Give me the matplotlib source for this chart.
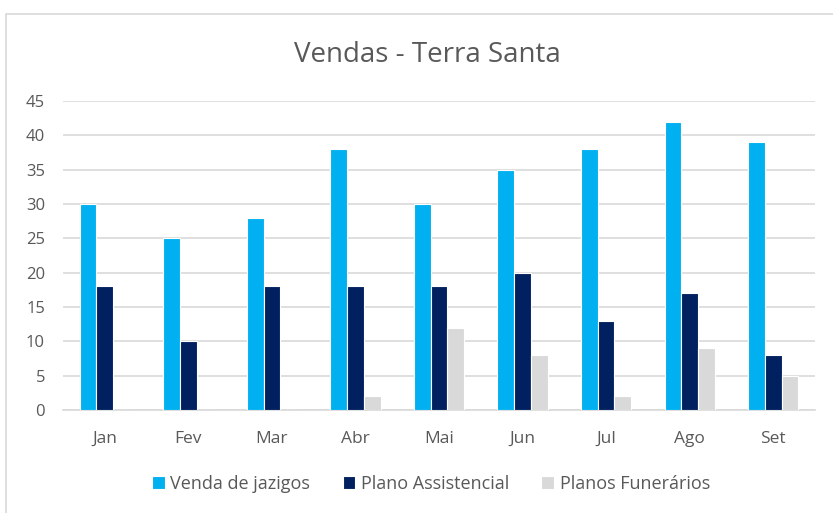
import matplotlib
matplotlib.use("Agg")
import matplotlib.pyplot as plt
import numpy as np
from matplotlib.patches import Rectangle

months = ["Jan", "Fev", "Mar", "Abr", "Mai", "Jun", "Jul", "Ago", "Set"]
venda_jazigos = [30, 25, 28, 38, 30, 35, 38, 42, 39]
plano_assistencial = [18, 10, 18, 18, 18, 20, 13, 17, 8]
planos_funerarios = [0, 0, 0, 2, 12, 8, 2, 9, 5]

series = [
    ("Venda de jazigos", venda_jazigos, "#00B0F0"),
    ("Plano Assistencial", plano_assistencial, "#002060"),
    ("Planos Funerários", planos_funerarios, "#D9D9D9"),
]

plt.rcParams['font.family'] = ['Open Sans', 'DejaVu Sans']
txt = "#595959"

fig = plt.figure(figsize=(8.33, 5.13), dpi=100)
ax = fig.add_axes([63/833, 1 - 410/513, 752/833, 309/513])

x = np.arange(len(months))
w = 0.2
for i, (name, vals, col) in enumerate(series):
    ax.bar(x + (i - 1) * w, vals, width=w, color=col, edgecolor="white",
           linewidth=0.8, label=name, zorder=3)

ax.set_xlim(-0.5, len(months) - 0.5)
ax.set_ylim(0, 45)
ax.set_yticks(range(0, 46, 5))
ax.set_xticks(x)
ax.set_xticklabels(months)
ax.grid(axis="y", color="#D9D9D9", linewidth=1.2, zorder=0)
for s in ["top", "right", "left"]:
    ax.spines[s].set_visible(False)
ax.spines["bottom"].set_color("#D9D9D9")
ax.spines["bottom"].set_linewidth(1.2)
ax.tick_params(axis="both", length=0, labelcolor=txt)
ax.tick_params(axis="y", pad=13, labelsize=12)
ax.tick_params(axis="x", pad=15, labelsize=12.5)

fig.text(427/833, 1 - 55/513, "Vendas - Terra Santa", ha="center", va="center",
         fontsize=20, color=txt)

fig.legend(loc="center", bbox_to_anchor=(431/833, 1 - 484/513), ncol=3,
           frameon=False, fontsize=13, labelcolor=txt, handlelength=0.7,
           handleheight=0.7, handletextpad=0.3, columnspacing=1.8)

fig.patches.append(Rectangle((6/833, -0.1), 1.0, 1 - 14/513 + 0.1,
                             transform=fig.transFigure, fill=False,
                             edgecolor="#D9D9D9", linewidth=1.2))

fig.savefig("out.png", dpi=100)
